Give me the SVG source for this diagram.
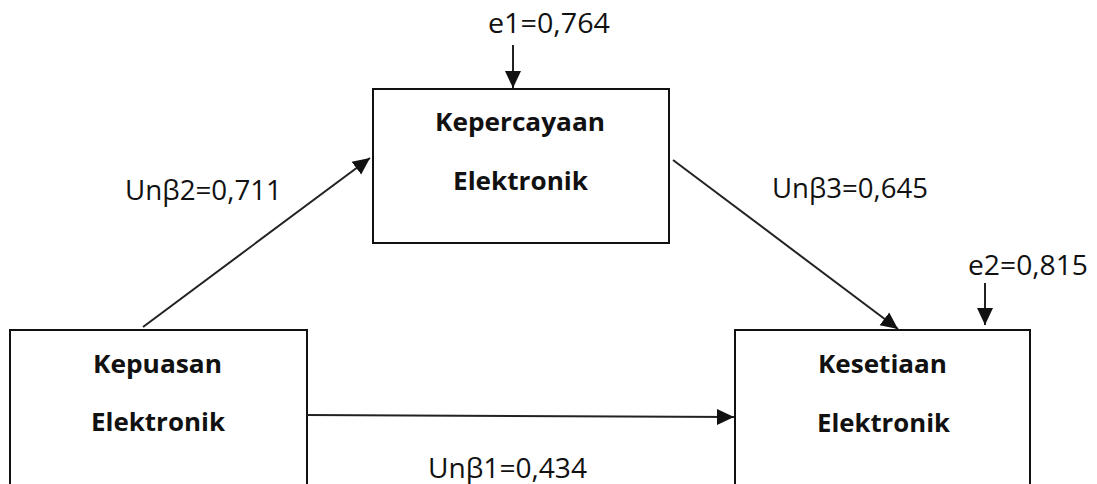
<svg xmlns="http://www.w3.org/2000/svg" width="1097" height="484" viewBox="0 0 1097 484">
<style>
.box{fill:#fff;stroke:#111;stroke-width:2}
.lbl{font-family:"Open Sans","Liberation Sans",sans-serif;font-weight:bold;font-size:25px;fill:#111}
.coef{font-family:"Open Sans","Liberation Sans",sans-serif;font-size:27px;fill:#111}
.conn{stroke:#222;stroke-width:2;fill:none;marker-end:url(#ah)}
</style>
<defs>
<marker id="ah" markerUnits="userSpaceOnUse" markerWidth="18" markerHeight="18" refX="17" refY="8" orient="auto" viewBox="0 0 18 16">
<path d="M0,0 L17,8 L0,16 z" fill="#111"/>
</marker>
</defs>
<rect width="1097" height="484" fill="#fff"/>
<g id="kepercayaan">
<rect class="box" x="373" y="89" width="296" height="154"/>
<text class="lbl" x="435" y="131" textLength="170" lengthAdjust="spacingAndGlyphs">Kepercayaan</text>
<text class="lbl" x="453" y="190" textLength="135" lengthAdjust="spacingAndGlyphs">Elektronik</text>
</g>
<g id="kepuasan">
<rect class="box" x="10" y="330" width="297" height="170"/>
<text class="lbl" x="93" y="373" textLength="129" lengthAdjust="spacingAndGlyphs">Kepuasan</text>
<text class="lbl" x="91" y="431" textLength="134" lengthAdjust="spacingAndGlyphs">Elektronik</text>
</g>
<g id="kesetiaan">
<rect class="box" x="735" y="330" width="295" height="170"/>
<text class="lbl" x="818" y="373" textLength="129" lengthAdjust="spacingAndGlyphs">Kesetiaan</text>
<text class="lbl" x="817" y="432" textLength="133" lengthAdjust="spacingAndGlyphs">Elektronik</text>
</g>
<g id="connectors">
<line class="conn" x1="143" y1="327" x2="370" y2="158"/>
<line class="conn" x1="673" y1="160" x2="898" y2="329"/>
<line class="conn" x1="307" y1="415" x2="734" y2="417"/>
<line class="conn" x1="513" y1="45" x2="513" y2="88"/>
<line class="conn" x1="985" y1="283" x2="985" y2="325"/>
</g>
<g id="labels">
<text class="coef" x="488" y="33" textLength="122" lengthAdjust="spacingAndGlyphs">e1=0,764</text>
<text class="coef" x="968" y="275" textLength="120" lengthAdjust="spacingAndGlyphs">e2=0,815</text>
<text class="coef" x="125" y="200" textLength="157" lengthAdjust="spacingAndGlyphs">Unβ2=0,711</text>
<text class="coef" x="772" y="198" textLength="156" lengthAdjust="spacingAndGlyphs">Unβ3=0,645</text>
<text class="coef" x="428" y="478" textLength="159" lengthAdjust="spacingAndGlyphs">Unβ1=0,434</text>
</g>
</svg>
